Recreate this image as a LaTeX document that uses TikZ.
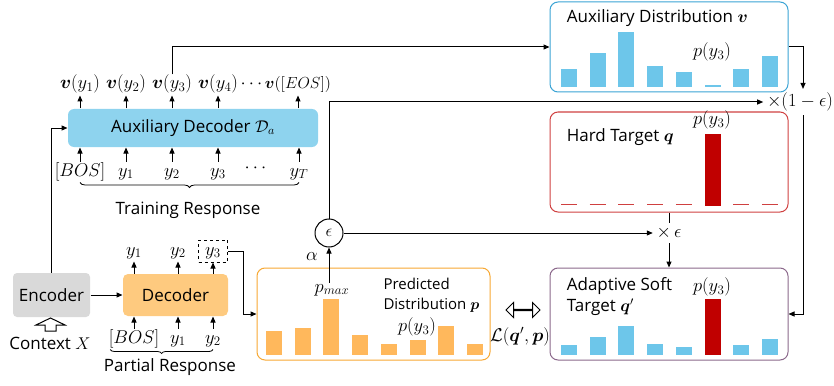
\RequirePackage{fix-cm}
\documentclass[tikz,border=0pt]{standalone}
\usepackage{amsmath,amssymb}
\usepackage[no-math]{fontspec}
\setmainfont{Open Sans}
\usetikzlibrary{arrows.meta}
\usetikzlibrary{shapes,positioning}
\usetikzlibrary{decorations.pathreplacing}
\tikzset{>={Stealth[inset=0pt,length=6pt,width=5pt]}}
\definecolor{auxblue}{RGB}{142,211,238}
\definecolor{barblue}{RGB}{109,198,234}
\definecolor{distblue}{RGB}{58,163,212}
\definecolor{encgray}{RGB}{217,217,217}
\definecolor{decorange}{RGB}{254,202,127}
\definecolor{predorange}{RGB}{247,168,51}
\definecolor{barorange}{RGB}{255,184,92}
\definecolor{hardred}{RGB}{207,64,64}
\definecolor{darkred}{RGB}{192,0,0}
\definecolor{softpurple}{RGB}{139,104,139}
\tikzset{
  box/.style={rounded corners=8pt,minimum width=238pt,line width=1pt,inner sep=0pt},
  mathlbl/.style={font=\fontsize{18.5}{22}\selectfont},
  tok/.style={mathlbl,inner sep=2pt,text height=12pt,text depth=4pt,anchor=base},
}

\begin{document}
\begin{tikzpicture}[x=1pt,y=-1pt,line width=1pt,font=\fontsize{17}{21}\selectfont]
    \useasboundingbox (0,0) rectangle (834,385);
    % boxes
    \node[box,fill=auxblue,minimum width=250pt,minimum height=38pt,rounded corners=6pt] (auxdec) at (193,128) {Auxiliary Decoder $\mathcal{D}_a$};
    \node[box,fill=encgray,minimum width=77pt,minimum height=44pt,rounded corners=4pt] (enc) at (51.5,295) {Encoder};
    \node[box,fill=decorange,minimum width=105pt,minimum height=42pt,rounded corners=5pt] (dec) at (175.5,295) {Decoder};
    \node[box,draw=predorange,minimum width=233pt,minimum height=92pt] (pred) at (373.5,314) {};
    \node[box,draw=distblue,minimum height=90pt] (auxdist) at (669,47) {};
    \node[box,draw=hardred,minimum height=100pt] (hard) at (669,162) {};
    \node[box,draw=softpurple,minimum height=92pt] (soft) at (669,314) {};
    \node[circle,draw,minimum size=28pt,inner sep=0pt] (eps) at (329,233) {$\epsilon$};
    % auxiliary decoder
    \foreach \n/\x/\lab in {o1/80/{$\boldsymbol{v}(y_1)$},o2/126/{$\boldsymbol{v}(y_2)$},o3/172/{$\boldsymbol{v}(y_3)$},o4/218/{$\boldsymbol{v}(y_4)$}}{
        \node[tok] (\n) at (\x,89) {\lab};
        \draw[->] (auxdec.north -| \n) -- (\n.south);
    }
    \node[tok,font=\fontsize{16}{20}\selectfont] (o5) at (298,89) {$\boldsymbol{v}([EOS])$};
    \draw[->] (auxdec.north -| o5) -- (o5.south);
    \node[tok] (odots) at (253,89) {$\cdots$};
    \foreach \n/\x/\lab in {i1/80/{$[BOS]$},i2/126/{$y_1$},i3/172/{$y_2$},i4/218/{$y_3$},i5/299/{$y_T$}}{
        \node[tok] (\n) at (\x,176) {\lab};
        \draw[->] (\n.north) -- (auxdec.south -| \n);
    }
    \node[mathlbl] (idots) at (257,168) {$\cdots$};
    \draw[line width=0.8pt,decorate,decoration={brace,mirror,amplitude=5pt}] (i1.south) -- (i5.south);
    \node (trainlbl) at (188,210) {Training Response};
    % decoder
    \node[tok] (d1) at (134,255) {$y_1$};
    \node[tok] (d2) at (178,255) {$y_2$};
    \node[tok,draw,dashed,minimum width=29pt,inner sep=3pt] (d3) at (213,255) {$y_3$};
    \foreach \n in {d1,d2,d3}
        \draw[->] (dec.north -| \n) -- (\n.south);
    \foreach \n/\x/\lab in {e1/134/{$[BOS]$},e2/178/{$y_1$},e3/213/{$y_2$}}{
        \node[tok] (\n) at (\x,343) {\lab};
        \draw[->] (\n.north) -- (dec.south -| \n);
    }
    \draw[line width=0.8pt,decorate,decoration={brace,mirror,amplitude=4pt}] ([xshift=4pt]e1.south west) -- (e3.south);
    \node (partlbl) at (170,367) {Partial Response};
    % encoder
    \draw[line width=1pt] (45,331) -- (56,331) -- (56,325) -- (65,325) -- (50.5,318) -- (36,325) -- (45,325) -- cycle;
    \node (ctxlbl) at (50,343) {Context $X$};
    \draw[->] (enc) -- (dec);
    \draw[->] (enc.north) |- (auxdec.west);
    \draw[->] (o3.north) |- (auxdist.west);
    \draw[->] (d3.east) -- ++(15,0) |- (pred.west);
    % predicted distribution
    \foreach \h [count=\i from 0] in {331,328,299,335,344,340,326,344}
        \fill[barorange] (266+28.7*\i,355) rectangle (282+28.7*\i,\h);
    \node[mathlbl,inner sep=1pt] (pmax) at (332,290) {$p_{max}$};
    \node[mathlbl] (alphalbl) at (312,257) {$\alpha$};
    \node[anchor=west,align=left,inner sep=3pt,font=\fontsize{15}{20}\selectfont] (predlbl) at (380,295) {Predicted\\Distribution $\boldsymbol{p}$};
    \node[mathlbl] (predpy) at (417,327) {$p(y_3)$};
    \draw[->] (pmax.north -| eps) -- (eps);
    % auxiliary distribution
    \foreach \h [count=\i from 0] in {69,53,32,66,72,85,69,56}
        \fill[barblue] (561+28.7*\i,87) rectangle (577+28.7*\i,\h);
    \node[anchor=west] (auxdistlbl) at (563,18) {Auxiliary Distribution $\boldsymbol{v}$};
    \node[mathlbl] (auxpy) at (712,52) {$p(y_3)$};
    % hard target
    \foreach \i in {0,1,2,3,4,6,7}
        \draw[hardred] (561+28.7*\i,204) -- ++(16,0);
    \fill[darkred] (704.5,206) rectangle (720.5,134);
    \node[anchor=west] (hardlbl) at (563,137) {Hard Target $\boldsymbol{q}$};
    \node[mathlbl] (hardpy) at (712,120) {$p(y_3)$};
    % adaptive soft target
    \foreach \h/\c [count=\i from 0] in {345/barblue,337/barblue,326/barblue,344/barblue,347/barblue,299/darkred,345/barblue,339/barblue}
        \fill[\c] (561+28.7*\i,355) rectangle (577+28.7*\i,\h);
    \node[anchor=west,align=left] (softlbl) at (563,297) {Adaptive Soft\\Target $\boldsymbol{q}'$};
    \node[mathlbl] (softpy) at (712,287) {$p(y_3)$};
    % mixing
    \node[mathlbl] (mule) at (669,233) {$\times\,\epsilon$};
    \node[mathlbl] (mul1e) at (800,102) {$\times(1-\epsilon)$};
    \coordinate (mix) at (803,102);
    \draw[->] (eps) -- (mule);
    \draw[->] (eps) |- (mul1e);
    \draw (hard) -- (mule);
    \draw[->] (mule) -- (soft);
    \draw[->] (auxdist.east) -| (mul1e.north -| mix);
    \draw[->] (mul1e.south -| mix) |- (soft.east);
    % loss
    \node[draw,double arrow,double arrow head extend=5pt,minimum height=34pt,minimum width=15pt,inner sep=0pt] (lossarrow) at (523,310) {};
    \node[mathlbl] (losslbl) at (520,337) {$\mathcal{L}(\boldsymbol{q}',\boldsymbol{p})$};
\end{tikzpicture}
\end{document}
